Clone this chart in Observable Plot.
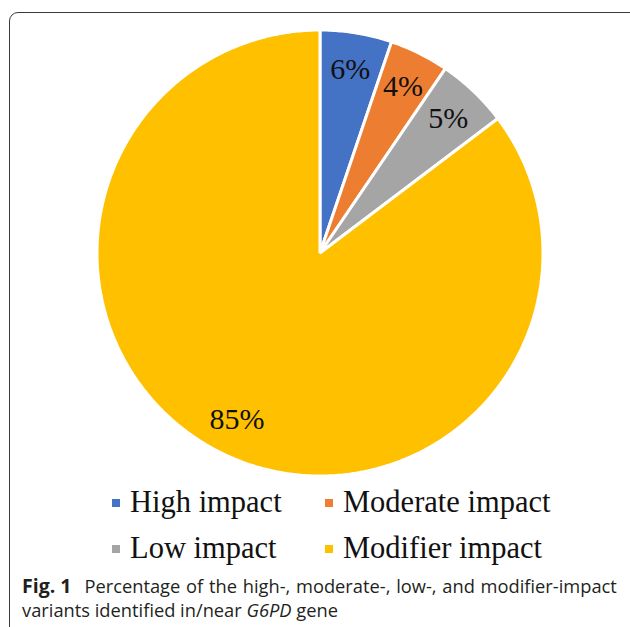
<!DOCTYPE html>
<html>
<head>
<meta charset="utf-8">
<script src="https://cdn.jsdelivr.net/npm/d3@7"></script>
<script src="https://cdn.jsdelivr.net/npm/@observablehq/plot@0.6"></script>
<style>
  html, body { margin: 0; padding: 0; background: #fff; overflow: hidden; }
  #page { position: relative; width: 630px; height: 627px; overflow: hidden; }
  #frame { position: absolute; left: 9px; top: 12px; width: 640px; height: 700px;
           border: 1.2px solid #3a3a3a; border-radius: 9px; box-sizing: border-box; }
  #chart { position: absolute; left: 0; top: 0; }
  .leg { position: absolute; font-family: "Liberation Serif", "Times New Roman", serif;
         font-size: 30.5px; color: #111; white-space: nowrap; line-height: 1; }
  .sw { position: absolute; width: 8px; height: 8px; }
  #caption { position: absolute; left: 22px; top: 574px; width: 610px;
             font-family: "Open Sans", "Noto Sans", sans-serif; font-size: 18.3px;
             line-height: 24px; color: #231f20; white-space: nowrap; }
  #caption .l1 { word-spacing: 1px; }
  #caption b { font-weight: 700; font-size: 19.5px; margin-right: 13px; word-spacing: 0; }
</style>
</head>
<body>
<div id="page">
  <div id="frame"></div>
  <div id="chart"></div>
  <div id="legend"></div>
  <div id="caption"><span class="l1"><b>Fig. 1</b>Percentage of the high-, moderate-, low-, and modifier-impact</span><br>variants identified in/near <i>G6PD</i> gene</div>
</div>
<script>
// Data
const categories = ["High impact", "Moderate impact", "Low impact", "Modifier impact"];
const values = [5.2, 4.3, 5.2, 85.3];
const labels = ["6%", "4%", "5%", "85%"];
const colors = ["#4472C4", "#ED7D31", "#A5A5A5", "#FFC000"];

// Build slice polygons in unit-circle coordinates (angle clockwise from 12 o'clock)
const pie = d3.pie().sort(null).value(d => d)(values);
const slices = pie.map((p, i) => {
  const pts = [{x: 0, y: 0, cat: categories[i]}];
  const n = Math.max(8, Math.ceil((p.endAngle - p.startAngle) / 0.01));
  for (let k = 0; k <= n; k++) {
    const a = p.startAngle + (p.endAngle - p.startAngle) * k / n;
    pts.push({x: Math.sin(a), y: Math.cos(a), cat: categories[i]});
  }
  return pts;
});
const labelData = pie.map((p, i) => {
  const a = (p.startAngle + p.endAngle) / 2;
  return {x: 0.835 * Math.sin(a), y: 0.835 * Math.cos(a), text: labels[i]};
});

const plot = Plot.plot({
  width: 630,
  height: 490,
  margin: 0,
  x: {domain: [-1, 1], range: [96.5, 542.5], axis: null},
  y: {domain: [-1, 1], range: [475.5, 29.5], axis: null},
  color: {domain: categories, range: colors},
  style: {background: "transparent", overflow: "visible"},
  marks: [
    ...slices.map((s, i) => Plot.line(s, {
      x: "x", y: "y", fill: colors[i], stroke: "white", strokeWidth: 3,
      strokeLinejoin: "miter", curve: "linear-closed"
    })),
    Plot.text(labelData, {
      x: "x", y: "y", text: "text",
      fontFamily: "Liberation Serif", fontSize: 30, fill: "#111"
    })
  ]
});
document.getElementById("chart").appendChild(plot);

// Legend (2 x 2)
const legend = document.getElementById("legend");
const legPos = [
  {sx: 112, tx: 130, top: 487},
  {sx: 325, tx: 343, top: 487},
  {sx: 112, tx: 130, top: 533},
  {sx: 325, tx: 343, top: 533}
];
categories.forEach((c, i) => {
  const p = legPos[i];
  const sw = document.createElement("div");
  sw.className = "sw";
  sw.style.left = p.sx + "px";
  sw.style.top = (p.top + 12) + "px";
  sw.style.background = colors[i];
  legend.appendChild(sw);
  const t = document.createElement("div");
  t.className = "leg";
  t.style.left = p.tx + "px";
  t.style.top = p.top + "px";
  t.textContent = c;
  legend.appendChild(t);
});
</script>
</body>
</html>
